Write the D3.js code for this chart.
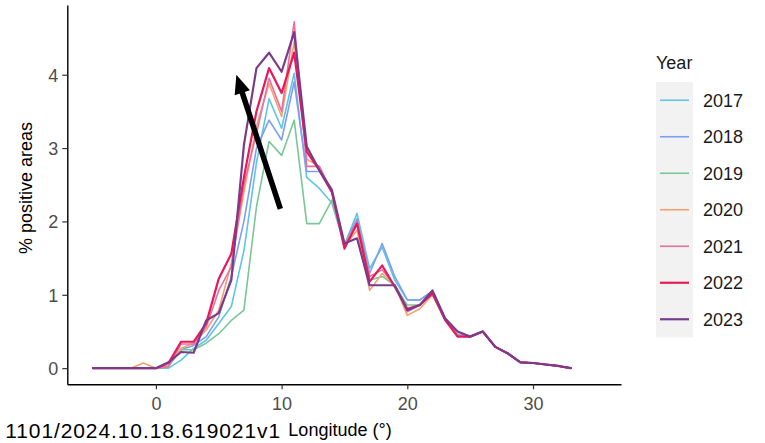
<!DOCTYPE html>
<html>
<head>
<meta charset="utf-8">
<script src="https://cdn.jsdelivr.net/npm/d3@7"></script>
<style>
  html, body { margin: 0; padding: 0; background: #fff; }
  svg { display: block; font-family: "Liberation Sans", Arial, sans-serif; }
</style>
</head>
<body>
<svg id="chart" width="765" height="443"></svg>
<script>
// Longitude bins (degrees)
const longitudes = d3.range(-5, 34);

// % positive areas per longitude bin, one array per year
const y2017 = [0,0,0,0,0,0,0.00,0.11,0.27,0.38,0.61,0.84,1.60,2.80,3.67,3.27,4.02,2.60,2.45,2.25,1.68,2.11,1.36,1.65,1.20,0.93,0.93,1.05,0.68,0.46,0.43,0.50,0.29,0.20,0.08,0.07,0.05,0.03,0.00];
const y2018 = [0,0,0,0,0,0,0.03,0.25,0.31,0.43,0.70,1.25,2.00,3.00,3.38,3.11,3.90,2.68,2.68,2.40,1.68,2.04,1.29,1.70,1.25,0.93,0.93,1.05,0.68,0.46,0.43,0.50,0.29,0.20,0.08,0.07,0.05,0.03,0.00];
const y2019 = [0,0,0,0,0,0,0.03,0.25,0.25,0.34,0.47,0.65,0.79,2.20,3.09,2.90,3.38,1.97,1.97,2.29,1.70,1.95,1.20,1.25,1.13,0.86,0.86,1.05,0.68,0.45,0.43,0.50,0.29,0.20,0.08,0.07,0.05,0.03,0.00];
const y2020 = [0,0,0,0,0.07,0,0.03,0.27,0.34,0.52,0.79,1.43,2.40,3.30,3.88,3.43,4.45,2.85,2.75,2.40,1.66,1.88,1.06,1.29,1.13,0.72,0.81,1.00,0.66,0.44,0.43,0.50,0.29,0.20,0.08,0.07,0.05,0.03,0.00];
const y2021 = [0,0,0,0,0,0,0.02,0.33,0.33,0.56,1.06,1.38,2.50,3.20,3.95,3.50,4.72,2.75,2.75,2.40,1.66,2.00,1.25,1.34,1.13,0.77,0.86,1.03,0.66,0.44,0.43,0.50,0.29,0.20,0.08,0.07,0.05,0.03,0.00];
const y2022 = [0,0,0,0,0,0,0.07,0.36,0.36,0.61,1.22,1.56,2.60,3.50,4.09,3.75,4.30,2.95,2.70,2.40,1.63,1.97,1.18,1.40,1.11,0.81,0.86,1.02,0.66,0.43,0.43,0.50,0.29,0.20,0.08,0.07,0.05,0.03,0.00];
const y2023 = [0,0,0,0,0,0,0.08,0.22,0.21,0.65,0.75,1.20,3.04,4.09,4.30,4.04,4.58,3.02,2.70,2.43,1.70,1.77,1.13,1.13,1.13,0.79,0.86,1.06,0.68,0.50,0.43,0.50,0.29,0.20,0.08,0.07,0.05,0.03,0.00];

const years = ["2017","2018","2019","2020","2021","2022","2023"];
const seriesValues = [y2017, y2018, y2019, y2020, y2021, y2022, y2023];
const yearColors = ["#5ec6e2","#7d9ef2","#7cc596","#f5a070","#eb6f9b","#e61a5a","#7a3b8c"];
const yearWidths = [1.6, 1.6, 1.6, 1.6, 1.6, 2.2, 2.2];

const xTicks = [0, 10, 20, 30];
const yTicks = [0, 1, 2, 3, 4];

// Arrow annotation, in data units: [longitude, percent]
const arrowFrom = [9.9, 2.17];
const arrowTo = [6.4, 4.0];

const svg = d3.select("#chart");

const x = d3.scaleLinear().domain([-7.05, 37]).range([67.3, 621]);
const y = d3.scaleLinear().domain([-0.22, 4.95]).range([384.3, 5]);

// Lines
const line = d3.line()
  .x((d, i) => x(longitudes[i]))
  .y(d => y(d));

const lines = svg.append("g");
seriesValues.forEach((vals, k) => {
  lines.append("path")
    .datum(vals)
    .attr("d", line)
    .attr("fill", "none")
    .attr("stroke", yearColors[k])
    .attr("stroke-width", yearWidths[k])
    .attr("stroke-linejoin", "round")
    .attr("stroke-linecap", "round");
});

// Axes
const fmt = d3.format("d");
const xAxis = svg.append("g")
  .attr("transform", `translate(0,${y.range()[0]})`)
  .call(d3.axisBottom(x).tickValues(xTicks).tickFormat(fmt).tickSize(5).tickSizeOuter(0).tickPadding(4));
const yAxis = svg.append("g")
  .attr("transform", `translate(${x.range()[0]},0)`)
  .call(d3.axisLeft(y).tickValues(yTicks).tickFormat(fmt).tickSize(5).tickSizeOuter(0).tickPadding(4));

[xAxis, yAxis].forEach(g => {
  g.select(".domain").attr("stroke", "#000").attr("stroke-width", 1.4);
  g.selectAll(".tick line").attr("stroke", "#333").attr("stroke-width", 1.2);
  g.selectAll(".tick text")
    .attr("fill", "#4d4d4d")
    .style("font-size", "18px")
    .style("font-family", "'Liberation Sans', Arial, sans-serif");
});
xAxis.selectAll(".tick text").attr("dy", "0.95em");
yAxis.selectAll(".tick text").attr("dy", "0.36em");

// Axis titles
svg.append("text")
  .attr("x", 340).attr("y", 436)
  .attr("text-anchor", "middle")
  .style("font-size", "18px")
  .attr("fill", "#000")
  .text("Longitude (°)");

svg.append("text")
  .attr("transform", "translate(32,188) rotate(-90)")
  .attr("text-anchor", "middle")
  .style("font-size", "18px")
  .attr("fill", "#000")
  .text("% positive areas");

// Arrow annotation
const ax0 = x(arrowFrom[0]), ay0 = y(arrowFrom[1]);
const ax1 = x(arrowTo[0]), ay1 = y(arrowTo[1]);
const dx = ax1 - ax0, dy = ay1 - ay0;
const len = Math.hypot(dx, dy);
const ux = dx / len, uy = dy / len;
const headLen = 19, headHalf = 8;
const bx = ax1 - ux * headLen, by = ay1 - uy * headLen;
svg.append("line")
  .attr("x1", ax0).attr("y1", ay0)
  .attr("x2", bx + ux * 2).attr("y2", by + uy * 2)
  .attr("stroke", "#000").attr("stroke-width", 5.5);
svg.append("path")
  .attr("d", `M${ax1},${ay1}L${bx - uy * headHalf},${by + ux * headHalf}L${bx + uy * headHalf},${by - ux * headHalf}Z`)
  .attr("fill", "#000");

// Legend
const legend = svg.append("g");
legend.append("text")
  .attr("x", 656).attr("y", 69)
  .style("font-size", "18px")
  .attr("fill", "#1a1a1a")
  .text("Year");

const keyTop = 82, keyH = 36.5;
legend.append("rect")
  .attr("x", 656).attr("y", keyTop)
  .attr("width", 37).attr("height", keyH * years.length)
  .attr("fill", "#f2f2f2");

years.forEach((yr, k) => {
  const cy = keyTop + keyH * k + keyH / 2;
  legend.append("line")
    .attr("x1", 660).attr("x2", 689)
    .attr("y1", cy).attr("y2", cy)
    .attr("stroke", yearColors[k])
    .attr("stroke-width", yearWidths[k]);
  legend.append("text")
    .attr("x", 703).attr("y", cy)
    .attr("dy", "0.36em")
    .style("font-size", "18px")
    .attr("fill", "#1a1a1a")
    .text(yr);
});

// Preprint identifier at the lower left
svg.append("text")
  .attr("x", 281).attr("y", 438)
  .attr("text-anchor", "end")
  .style("font-size", "21px")
  .style("letter-spacing", "0.9px")
  .attr("fill", "#000")
  .text("1101/2024.10.18.619021v1");
</script>
</body>
</html>
